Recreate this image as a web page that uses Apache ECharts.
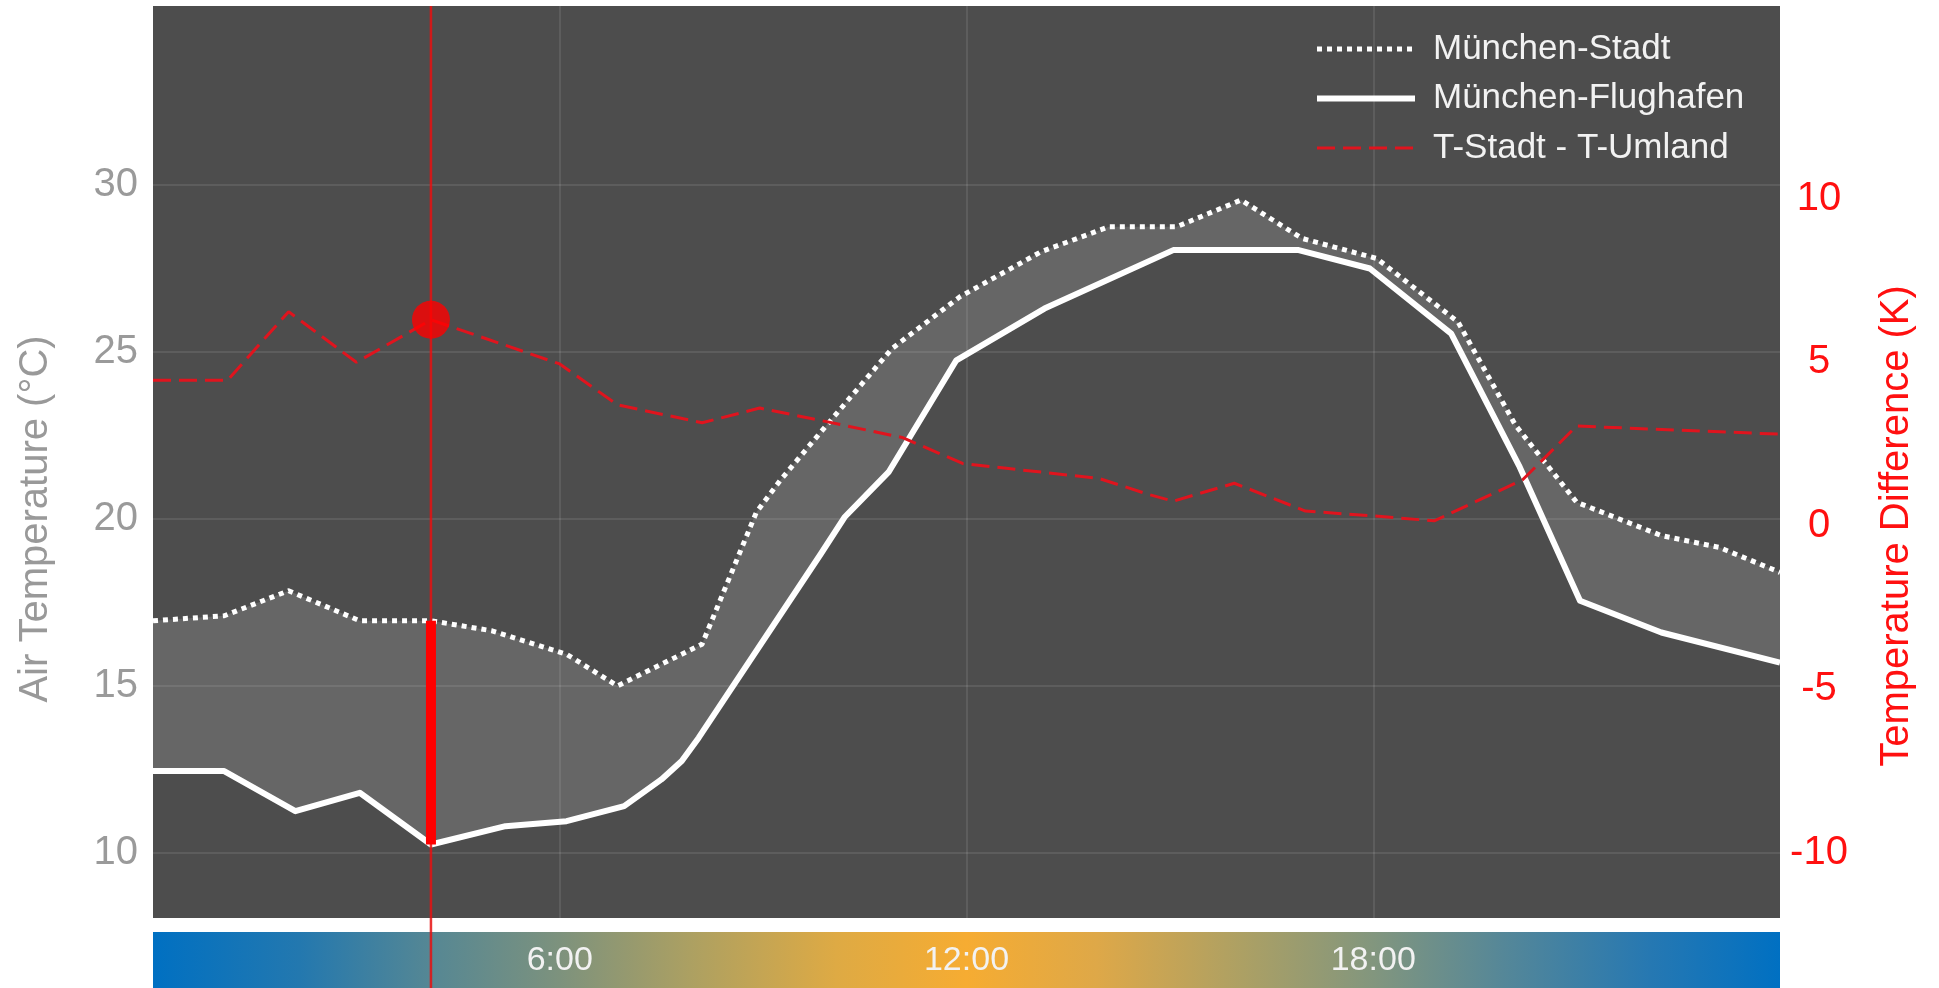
<!DOCTYPE html>
<html>
<head>
<meta charset="utf-8">
<script src="https://cdn.jsdelivr.net/npm/echarts@6/dist/echarts.min.js"></script>
<style>
  html, body { margin: 0; padding: 0; background: #ffffff; }
  #chart { width: 1939px; height: 988px; }
</style>
</head>
<body>
<div id="chart"></div>
<script>
// ---- Data (hours of day, °C / K) ----
const stadtHours = [0, 1.05, 2.0, 3.05, 4.1, 5.0, 6.1, 6.85, 8.1, 8.9, 9.25, 9.85, 10.9, 11.9, 13.1, 14.1, 15.1, 16.05, 16.95, 18.05, 19.25, 20.1, 21.0, 22.25, 23.1, 24];
const stadtTemps = [16.95, 17.1, 17.85, 16.95, 16.95, 16.65, 15.95, 15.0, 16.25, 20.2, 21.15, 22.6, 25.1, 26.65, 28.0, 28.75, 28.75, 29.55, 28.4, 27.8, 25.9, 22.8, 20.5, 19.5, 19.15, 18.4];

const flugHours = [0, 1.05, 2.1, 3.05, 4.1, 5.2, 6.1, 6.95, 7.5, 7.8, 8.05, 9.85, 10.2, 10.85, 11.85, 13.15, 15.05, 16.9, 17.95, 19.15, 20.15, 21.05, 22.25, 24];
const flugTemps = [12.45, 12.45, 11.25, 11.8, 10.25, 10.8, 10.95, 11.4, 12.2, 12.75, 13.45, 18.95, 20.05, 21.4, 24.75, 26.3, 28.05, 28.05, 27.5, 25.55, 21.6, 17.55, 16.6, 15.7];

const diffHours = [0, 1.1, 2.0, 3.0, 4.1, 6.0, 6.85, 8.1, 8.95, 9.9, 11.05, 11.95, 13.95, 14.7, 15.05, 15.95, 17.0, 18.0, 18.9, 20.2, 21.0, 24];
const diffValues = [4.45, 4.45, 6.55, 5.0, 6.3, 4.95, 3.7, 3.15, 3.6, 3.2, 2.7, 1.9, 1.45, 0.95, 0.75, 1.3, 0.45, 0.3, 0.15, 1.4, 3.05, 2.8];

const markerIndex = 4;            // highlighted time step (≈ 4:00)
const leftTicks = [10, 15, 20, 25, 30];
const rightTicks = [-10, -5, 0, 5, 10];
const hourTicks = [6, 12, 18];
const seriesNames = ['München-Stadt', 'München-Flughafen', 'T-Stadt - T-Umland'];

const pairs = (xs, ys) => xs.map((x, i) => [x, ys[i]]);

const chart = echarts.init(document.getElementById('chart'), null, { renderer: 'canvas' });

const FONT = 'Liberation Sans, Arial, Helvetica, sans-serif';
const markerHour = stadtHours[markerIndex];

const barGradient = new echarts.graphic.LinearGradient(0, 0, 1, 0, [
  { offset: 0.00, color: 'rgb(0,112,194)' },
  { offset: 0.09, color: 'rgb(35,120,175)' },
  { offset: 0.17, color: 'rgb(85,135,148)' },
  { offset: 0.25, color: 'rgb(125,146,125)' },
  { offset: 0.33, color: 'rgb(172,160,98)' },
  { offset: 0.42, color: 'rgb(222,170,68)' },
  { offset: 0.50, color: 'rgb(246,172,50)' },
  { offset: 0.58, color: 'rgb(222,168,72)' },
  { offset: 0.67, color: 'rgb(172,160,100)' },
  { offset: 0.75, color: 'rgb(130,150,126)' },
  { offset: 0.83, color: 'rgb(85,135,152)' },
  { offset: 0.92, color: 'rgb(38,120,178)' },
  { offset: 1.00, color: 'rgb(0,112,194)' }
]);

const option = {
  animation: false,
  backgroundColor: '#ffffff',
  textStyle: { fontFamily: FONT },
  grid: [
    { left: 153, right: 159, top: 6, bottom: 70, show: true, backgroundColor: '#4d4d4d', borderWidth: 0, containLabel: false, outerBoundsMode: 'none' },
    { left: 153, right: 159, top: 932, height: 56, show: true, backgroundColor: barGradient, borderWidth: 0, containLabel: false, outerBoundsMode: 'none' }
  ],
  legend: {
    orient: 'vertical',
    left: 1314,
    top: 31,
    padding: 0,
    itemWidth: 98,
    itemHeight: 14,
    itemGap: 13.5,
    textStyle: { color: '#f2f2f2', fontSize: 35, lineHeight: 36, fontFamily: FONT, padding: [0, 0, 0, 13] },
    data: [
      { name: seriesNames[0], lineStyle: { width: 5, type: [5, 5], color: '#ffffff' }, itemStyle: { opacity: 0 } },
      { name: seriesNames[1], lineStyle: { width: 6, type: 'solid', color: '#ffffff' }, itemStyle: { opacity: 0 } },
      { name: seriesNames[2], lineStyle: { width: 3, type: [18, 8], color: '#e0141e' }, itemStyle: { opacity: 0 } }
    ],
    selectedMode: false
  },
  xAxis: [
    {
      type: 'value', gridIndex: 0, min: 0, max: 24,
      axisLine: { show: false }, axisLabel: { show: false },
      axisTick: { show: false, customValues: hourTicks },
      splitLine: { show: true, lineStyle: { color: 'rgba(255,255,255,0.13)', width: 1.5 } }
    },
    {
      type: 'value', gridIndex: 1, min: 0, max: 24,
      axisLine: { show: false }, axisTick: { show: false }, splitLine: { show: false },
      axisLabel: {
        customValues: hourTicks, inside: true, margin: 27, verticalAlign: 'middle',
        color: '#f2f2f2', fontSize: 34, fontFamily: FONT,
        formatter: v => v + ':00'
      }
    }
  ],
  yAxis: [
    {
      type: 'value', gridIndex: 0, min: 8.05, max: 35.36, position: 'left',
      name: 'Air Temperature (°C)', nameLocation: 'middle', nameGap: 97, nameRotate: 90,
      nameTextStyle: { color: '#999999', fontSize: 40, fontFamily: FONT, padding: [0, 114, 0, 0] },
      axisLine: { show: false }, axisTick: { show: false, customValues: leftTicks },
      axisLabel: { customValues: leftTicks, color: '#9a9a9a', fontSize: 40, margin: 15, fontFamily: FONT, padding: [8, 0, 0, 0] },
      splitLine: { show: true, lineStyle: { color: 'rgba(255,255,255,0.13)', width: 1.5 } }
    },
    {
      type: 'value', gridIndex: 0, min: -12, max: 15.9, position: 'right',
      name: 'Temperature Difference (K)', nameLocation: 'middle', nameGap: 97, nameRotate: 90,
      nameTextStyle: { color: '#ff1010', fontSize: 40, fontFamily: FONT, padding: [0, 128, 0, 0] },
      axisLine: { show: false }, axisTick: { show: false, customValues: rightTicks },
      axisLabel: { customValues: rightTicks, color: '#ff1010', fontSize: 40, margin: 39, align: 'center', fontFamily: FONT },
      splitLine: { show: false }
    },
    {
      type: 'value', gridIndex: 1, min: 0, max: 1, show: false
    }
  ],
  series: [
    {
      name: 'band', type: 'custom', xAxisIndex: 0, yAxisIndex: 0, z: 1, silent: true,
      data: [[stadtHours[0], stadtTemps[0]]],
      renderItem: function (params, api) {
        const pts = [];
        for (let i = 0; i < stadtHours.length; i++) pts.push(api.coord([stadtHours[i], stadtTemps[i]]));
        for (let i = flugHours.length - 1; i >= 0; i--) pts.push(api.coord([flugHours[i], flugTemps[i]]));
        return { type: 'polygon', shape: { points: pts }, style: { fill: 'rgba(255,255,255,0.14)' } };
      }
    },
    {
      name: seriesNames[0], type: 'line', xAxisIndex: 0, yAxisIndex: 0, z: 2,
      data: pairs(stadtHours, stadtTemps), symbol: 'none',
      lineStyle: { color: '#ffffff', width: 5, type: [5, 5], cap: 'butt', join: 'round' },
      itemStyle: { color: '#ffffff' }
    },
    {
      name: seriesNames[1], type: 'line', xAxisIndex: 0, yAxisIndex: 0, z: 2,
      data: pairs(flugHours, flugTemps), symbol: 'none', smooth: false,
      lineStyle: { color: '#ffffff', width: 6, join: 'round' },
      itemStyle: { color: '#ffffff' }
    },
    {
      name: seriesNames[2], type: 'line', xAxisIndex: 0, yAxisIndex: 1, z: 3,
      data: pairs(diffHours, diffValues), symbol: 'none',
      lineStyle: { color: '#e0141e', width: 3, type: [18, 8] },
      itemStyle: { color: '#e0141e' }
    },
    {
      name: 'cursor', type: 'custom', xAxisIndex: 0, yAxisIndex: 0, z: 4, silent: true, clip: false,
      data: [[markerHour, stadtTemps[markerIndex]]],
      renderItem: function (params, api) {
        const x = api.coord([api.value(0), api.value(1)])[0];
        return {
          type: 'line',
          shape: { x1: x, y1: params.coordSys.y, x2: x, y2: api.getHeight() },
          style: { stroke: 'rgba(230,16,16,0.85)', lineWidth: 2.5 }
        };
      }
    },
    {
      name: 'gap', type: 'line', xAxisIndex: 0, yAxisIndex: 0, z: 5, silent: true,
      data: [[markerHour, flugTemps[markerIndex]], [markerHour, stadtTemps[markerIndex]]],
      symbol: 'none', lineStyle: { color: '#ff0000', width: 10, cap: 'butt' }
    },
    {
      name: 'dot', type: 'scatter', xAxisIndex: 0, yAxisIndex: 1, z: 6, silent: true,
      data: [[markerHour, diffValues[markerIndex]]],
      symbolSize: 38, itemStyle: { color: '#ff0000' }
    },
    {
      name: 'dummy', type: 'line', xAxisIndex: 1, yAxisIndex: 2, data: [], silent: true
    }
  ]
};

chart.setOption(option);
</script>
</body>
</html>
